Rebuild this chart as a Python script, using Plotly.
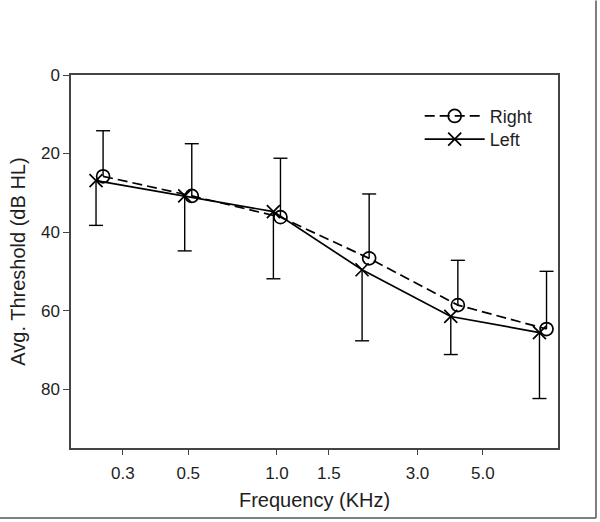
import plotly.graph_objects as go

# ---- data ----
freq_khz = [0.25, 0.5, 1.0, 2.0, 4.0, 8.0]
right_mean = [25.8, 30.8, 36.2, 46.7, 58.6, 64.7]
right_err_up = [11.6, 13.3, 15.0, 16.4, 11.4, 14.7]
left_mean = [26.9, 30.8, 34.8, 49.6, 61.5, 65.6]
left_err_down = [11.4, 14.0, 17.1, 18.1, 9.7, 16.8]

x_tickvals = [0.3, 0.5, 1.0, 1.5, 3.0, 5.0]
x_ticktext = ["0.3", "0.5", "1.0", "1.5", "3.0", "5.0"]
y_tickvals = [0, 20, 40, 60, 80]

# small horizontal offset so the two series do not overlap
OFF = 1.028
x_right = [f * OFF for f in freq_khz]
x_left = [f / OFF for f in freq_khz]

FONT = "Liberation Sans, Arial, sans-serif"
AX = "#444444"
TXT = "#1e1e1e"

fig = go.Figure()

# error bars (one-sided) with caps drawn as line-ew markers at the ends
right_end = [m - e for m, e in zip(right_mean, right_err_up)]
left_end = [m + e for m, e in zip(left_mean, left_err_down)]

fig.add_trace(go.Scatter(
    x=x_right, y=right_end, mode="markers", showlegend=False, hoverinfo="skip",
    marker=dict(symbol="line-ew", size=10, color="black", line=dict(color="black", width=1.4)),
    error_y=dict(type="data", symmetric=False, array=right_err_up,
                 arrayminus=[0] * len(right_err_up), width=0, thickness=1.4, color="black"),
))
fig.add_trace(go.Scatter(
    x=x_left, y=left_end, mode="markers", showlegend=False, hoverinfo="skip",
    marker=dict(symbol="line-ew", size=10, color="black", line=dict(color="black", width=1.4)),
    error_y=dict(type="data", symmetric=False, array=[0] * len(left_err_down),
                 arrayminus=left_err_down, width=0, thickness=1.4, color="black"),
))

fig.add_trace(go.Scatter(
    x=x_right, y=right_mean, mode="lines+markers", name="Right", legend="legend",
    line=dict(color="black", width=1.7, dash="10px,5px"),
    marker=dict(symbol="circle-open", size=13, color="black", line=dict(width=1.7)),
))
fig.add_trace(go.Scatter(
    x=x_left, y=left_mean, mode="lines+markers", name="Left", legend="legend2",
    line=dict(color="black", width=1.7),
    marker=dict(symbol="x-thin-open", size=13, color="black", line=dict(width=1.7)),
))

leg_common = dict(xanchor="left", yanchor="top", bgcolor="rgba(0,0,0,0)",
                  font=dict(size=18, family=FONT, color=TXT), itemwidth=60)

fig.update_layout(
    width=600, height=522,
    margin=dict(l=71, r=42, t=75, b=74),
    paper_bgcolor="white", plot_bgcolor="white",
    font=dict(family=FONT, color=TXT),
    legend=dict(x=0.716, y=0.939, **leg_common),
    legend2=dict(x=0.716, y=0.877, **leg_common),
    showlegend=True,
    xaxis=dict(
        type="log", range=[-0.699, 0.954],
        tickmode="array", tickvals=x_tickvals, ticktext=x_ticktext,
        ticks="outside", ticklen=5, tickcolor=AX, tickwidth=1,
        ticklabelstandoff=4,
        showline=True, linecolor=AX, linewidth=1.5, mirror=True,
        showgrid=False, zeroline=False,
        tickfont=dict(size=17, family=FONT, color=TXT),
        title=dict(text="Frequency (KHz)", font=dict(size=20, family=FONT, color=TXT), standoff=11),
    ),
    yaxis=dict(
        range=[95, 0],
        tickmode="array", tickvals=y_tickvals,
        ticks="outside", ticklen=6, tickcolor=AX, tickwidth=1,
        showline=True, linecolor=AX, linewidth=1.5, mirror=True,
        showgrid=False, zeroline=False,
        tickfont=dict(size=17, family=FONT, color=TXT),
        title=dict(text="Avg. Threshold (dB HL)", font=dict(size=20, family=FONT, color=TXT), standoff=10),
    ),
    shapes=[
        dict(type="line", xref="paper", yref="paper", x0=-0.15, x1=1.078, y0=-0.188, y1=-0.188,
             line=dict(color="#555555", width=1.5)),
        dict(type="line", xref="paper", yref="paper", x0=1.078, x1=1.078, y0=-0.188, y1=1.2,
             line=dict(color="#555555", width=1.5)),
    ],
)

fig.write_html(
    "out.html",
    config={"displayModeBar": False},
    post_script="document.body.style.margin='0';document.body.style.overflow='hidden';",
)
